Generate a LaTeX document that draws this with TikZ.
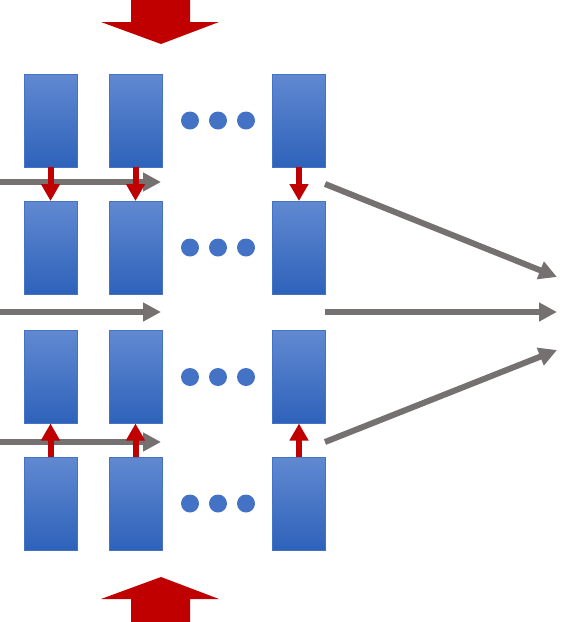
\documentclass[tikz,border=0pt]{standalone}
\usetikzlibrary{arrows.meta}
\definecolor{boxblue}{HTML}{4472C4}
\definecolor{topblue}{HTML}{6189D1}
\definecolor{botblue}{HTML}{2E62BA}
\definecolor{arrred}{HTML}{C00000}
\definecolor{arrgray}{HTML}{767171}
\begin{document}
\begin{tikzpicture}[x=1pt,y=-1pt,
  cell/.style={draw=boxblue, line width=0.8pt, top color=topblue, bottom color=botblue,
    minimum width=53pt, minimum height=93pt, inner sep=0pt, outer sep=0pt},
  dot/.style={circle, fill=boxblue, minimum size=18pt, inner sep=0pt},
  redarr/.style={draw=arrred, line width=6pt, -{Triangle[length=17pt,width=18pt]}},
  grayarr/.style={draw=arrgray, line width=6pt, -{Triangle[length=18pt,width=18pt]}},
  bigarr/.style={fill=arrred}]
\useasboundingbox (0,0) rectangle (577,622);
% cells
\foreach \r/\y in {1/120.5,2/247.5,3/377,4/503.5}{
  \node[cell] (c\r a) at (50.5,\y) {};
  \node[cell] (c\r b) at (135.5,\y) {};
  \node[cell] (c\r c) at (299,\y) {};
  \node[dot] (d\r a) at (190,\y) {};
  \node[dot] (d\r b) at (218,\y) {};
  \node[dot] (d\r c) at (246,\y) {};
}
% big arrows
\fill[bigarr] (131,0) -- (190,0) -- (190,22) -- (219,22) -- (161,44) -- (101,22) -- (131,22) -- cycle;
\fill[bigarr] (131,622) -- (190,622) -- (190,599) -- (219,599) -- (161,577) -- (101,599) -- (131,599) -- cycle;
% gray arrows left
\coordinate (gs1) at (0,182);   \coordinate (ge1) at (161,182);
\coordinate (gs2) at (0,312);   \coordinate (ge2) at (161,312);
\coordinate (gs3) at (0,442);   \coordinate (ge3) at (161,442);
\draw[grayarr] (gs1) -- (ge1);
\draw[grayarr] (gs2) -- (ge2);
\draw[grayarr] (gs3) -- (ge3);
% gray arrows right
\coordinate (rs1) at (325,184); \coordinate (re1) at (557,277);
\coordinate (rs2) at (325,312); \coordinate (re2) at (557,312);
\coordinate (rs3) at (325,442); \coordinate (re3) at (557,350);
\draw[grayarr] (rs1) -- (re1);
\draw[grayarr] (rs2) -- (re2);
\draw[grayarr] (rs3) -- (re3);
% red arrows
\foreach \k in {a,b,c}{
  \draw[redarr] (c1\k.south) -- (c2\k.north);
  \draw[redarr] (c4\k.north) -- (c3\k.south);
}
\end{tikzpicture}
\end{document}
